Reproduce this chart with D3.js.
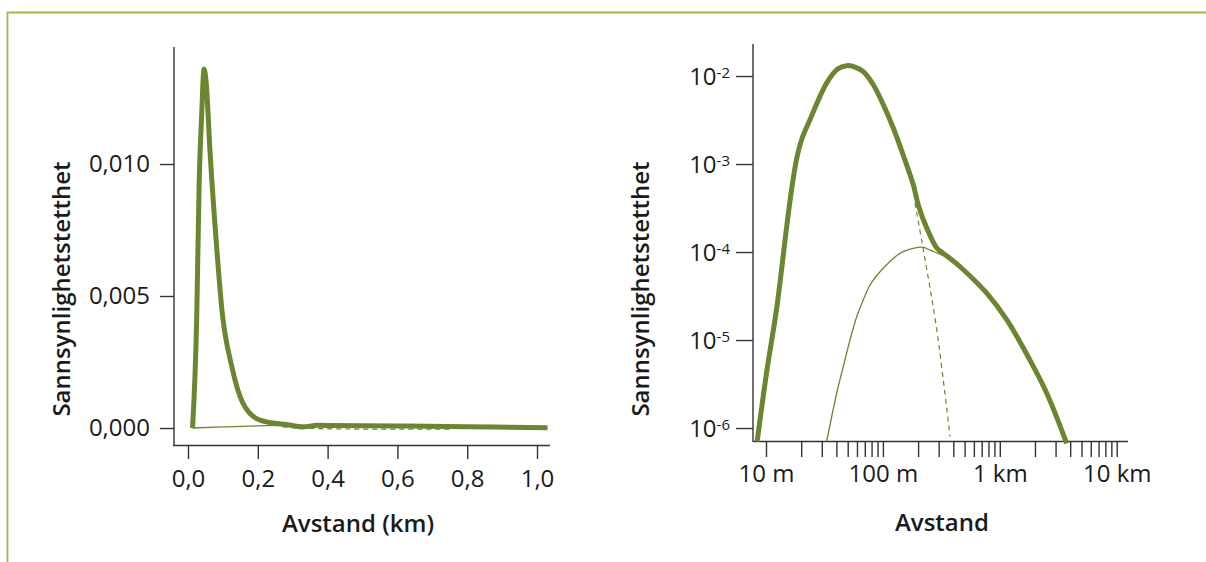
<!DOCTYPE html>
<html>

<head>
	<meta charset="utf-8">
	<title>Sannsynlighetstetthet</title>
	<script src="https://cdn.jsdelivr.net/npm/d3@7"></script>
	<style>
		body {
			margin: 0;
			background: #fff;
		}

		svg text {
			font-family: "Open Sans", sans-serif;
			fill: #1a1a1a;
		}

		.axis path,
		.axis line,
		.axisline {
			stroke: #333;
			stroke-width: 1.4;
		}

		.tick text {
			font-size: 24px;
		}

		.title {
			font-size: 24px;
			font-weight: 600;
		}
	</style>
</head>

<body>
	<svg width="1206" height="562"></svg>

	<script>
		// venstre panel: lineær akse (km)
		var leftTotalKm = [0.013, 0.025, 0.032, 0.039, 0.046, 0.052, 0.063, 0.083, 0.097, 0.126, 0.157, 0.206, 0.29, 0.33, 0.37, 0.6, 0.8, 1.03];
		var leftTotalVal = [0, 0.0042, 0.0093, 0.0118, 0.0136, 0.0131, 0.0105, 0.0067, 0.0045, 0.0023, 0.00095, 0.0003, 0.00011, 0.00004, 0.0001, 0.00008, 0.00005, 0.00001];
		var leftLongKm = [0.013, 0.1, 0.2, 0.26, 0.4, 0.6, 0.8, 1.03];
		var leftLongVal = [0, 0.00004, 0.00008, 0.0001, 0.0001, 0.00008, 0.00005, 0.00001];
		var leftShortKm = [0.22, 0.3, 0.5, 0.75];
		var leftShortVal = [0.0002, 0.00001, -0.00004, -0.00004];
		var leftXTicks = [0, 0.2, 0.4, 0.6, 0.8, 1.0];
		var leftYTicks = [0, 0.005, 0.010];

		// høyre panel: log-log (meter)
		var rightTotalM = [8.4, 10.1, 12.4, 15.0, 16.6, 18.3, 20.2, 23.8, 33, 41, 49, 57, 68, 83, 101, 123, 149, 182, 201, 237, 289, 329, 457, 773, 1145, 1812, 2517, 3733];
		var rightTotalVal = [7e-7, 4.2e-6, 2.4e-5, 1.9e-4, 5.3e-4, 1.15e-3, 1.9e-3, 3.2e-3, 8.3e-3, 1.2e-2, 1.31e-2, 1.27e-2, 1.12e-2, 7.9e-3, 4.7e-3, 2.55e-3, 1.27e-3, 5.8e-4, 3.4e-4, 1.87e-4, 1.11e-4, 9.66e-5, 6.8e-5, 3.4e-5, 1.7e-5, 5.9e-6, 2.5e-6, 6.7e-7];
		var rightLongM = [33, 40.3, 46, 52.3, 59.7, 67.9, 77.6, 100.7, 140, 182, 222, 253, 300, 351, 457, 773, 1145, 1812, 2517, 3733];
		var rightLongVal = [7e-7, 2.5e-6, 5.1e-6, 1e-5, 1.84e-5, 2.85e-5, 4.22e-5, 6.53e-5, 9.66e-5, 1.1e-4, 1.13e-4, 1.05e-4, 9.6e-5, 8.7e-5, 6.8e-5, 3.4e-5, 1.7e-5, 5.9e-6, 2.5e-6, 6.7e-7];
		var rightShortM = [188, 222, 289, 375];
		var rightShortVal = [3.6e-4, 1.05e-4, 1.3e-5, 8e-7];
		var rightYTicks = [1e-2, 1e-3, 1e-4, 1e-5, 1e-6];
		var rightXLabels = { 10: "10 m", 100: "100 m", 1000: "1 km", 10000: "10 km" };

		var green = "#6b8530";
		var svg = d3.select("svg");

		// ramme
		svg.append("path")
			.attr("d", "M7.5,562V12.5H1206")
			.attr("fill", "none")
			.attr("stroke", "#a3b54a")
			.attr("stroke-width", 1.8);

		function zip(xs, ys) {
			return xs.map(function(x, i) { return [x, ys[i]]; });
		}

		function drawLine(x, y, data, width, dash, curve) {
			svg.append("path")
				.datum(data)
				.attr("fill", "none")
				.attr("stroke", green)
				.attr("stroke-width", width)
				.attr("stroke-dasharray", dash || null)
				.attr("stroke-linejoin", "round")
				.attr("d", d3.line()
					.x(function(d) { return x(d[0]); })
					.y(function(d) { return y(d[1]); })
					.curve(curve || d3.curveMonotoneX));
		}

		// ---- venstre ----
		var lx = d3.scaleLinear().domain([0, 1]).range([188, 537]);
		var ly = d3.scaleLinear().domain([0, 0.01]).range([428, 164]);
		var comma = d3.formatLocale({ decimal: ",", thousands: " ", grouping: [3], currency: ["", ""] });

		svg.append("line").attr("class", "axisline")
			.attr("x1", 173).attr("x2", 550).attr("y1", 445.5).attr("y2", 445.5);
		svg.append("line").attr("class", "axisline")
			.attr("x1", 174).attr("x2", 174).attr("y1", 47).attr("y2", 446);

		svg.append("g").attr("class", "axis")
			.attr("transform", "translate(0,446)")
			.call(d3.axisBottom(lx).tickValues(leftXTicks).tickSize(13).tickPadding(11)
				.tickFormat(comma.format(".1f")))
			.call(function(g) { g.select(".domain").remove(); });

		svg.append("g").attr("class", "axis")
			.attr("transform", "translate(174,0)")
			.call(d3.axisLeft(ly).tickValues(leftYTicks).tickSize(14).tickPadding(10)
				.tickFormat(comma.format(".3f")))
			.call(function(g) { g.select(".domain").remove(); });

		drawLine(lx, ly, zip(leftLongKm, leftLongVal), 1.3);
		drawLine(lx, ly, zip(leftShortKm, leftShortVal), 1.2, "5,4");
		drawLine(lx, ly, zip(leftTotalKm, leftTotalVal), 5);

		svg.append("text").attr("class", "title")
			.attr("x", 358).attr("y", 532).attr("text-anchor", "middle")
			.text("Avstand (km)");
		svg.append("text").attr("class", "title")
			.attr("transform", "translate(70,289) rotate(-90)")
			.attr("text-anchor", "middle")
			.text("Sannsynlighetstetthet");

		// ---- høyre ----
		var rx = d3.scaleLog().domain([10, 10000]).range([766, 1116.7]);
		var ry = d3.scaleLog().domain([1e-6, 1e-2]).range([428, 76]);

		svg.append("line").attr("class", "axisline")
			.attr("x1", 753).attr("x2", 1128).attr("y1", 441.5).attr("y2", 441.5);
		svg.append("line").attr("class", "axisline")
			.attr("x1", 753).attr("x2", 753).attr("y1", 44).attr("y2", 442);

		svg.append("g").attr("class", "axis")
			.attr("transform", "translate(0,442)")
			.call(d3.axisBottom(rx).ticks(10).tickSize(15).tickPadding(8)
				.tickFormat(function(d) { return rightXLabels[Math.round(d)] || ""; }))
			.call(function(g) { g.select(".domain").remove(); });

		var yAxis = svg.append("g").attr("class", "axis")
			.attr("transform", "translate(753,0)")
			.call(d3.axisLeft(ry).tickValues(rightYTicks).tickSize(17).tickPadding(6)
				.tickFormat(function() { return ""; }))
			.call(function(g) { g.select(".domain").remove(); });

		yAxis.selectAll(".tick text")
			.attr("x", -23)
			.attr("dy", "0.36em")
			.attr("text-anchor", "end")
			.each(function(d) {
				var t = d3.select(this);
				t.append("tspan").text("10");
				t.append("tspan").attr("dy", "-7px").style("font-size", "15px")
					.text(Math.round(Math.log10(d)));
			});

		var smooth = d3.curveCatmullRom.alpha(0.5);
		drawLine(rx, ry, zip(rightLongM, rightLongVal), 1.3, null, smooth);
		drawLine(rx, ry, zip(rightShortM, rightShortVal), 1.2, "5,4", smooth);
		drawLine(rx, ry, zip(rightTotalM, rightTotalVal), 5, null, smooth);

		svg.append("text").attr("class", "title")
			.attr("x", 942).attr("y", 531).attr("text-anchor", "middle")
			.text("Avstand");
		svg.append("text").attr("class", "title")
			.attr("transform", "translate(649,289) rotate(-90)")
			.attr("text-anchor", "middle")
			.text("Sannsynlighetstetthet");
	</script>
</body>

</html>
